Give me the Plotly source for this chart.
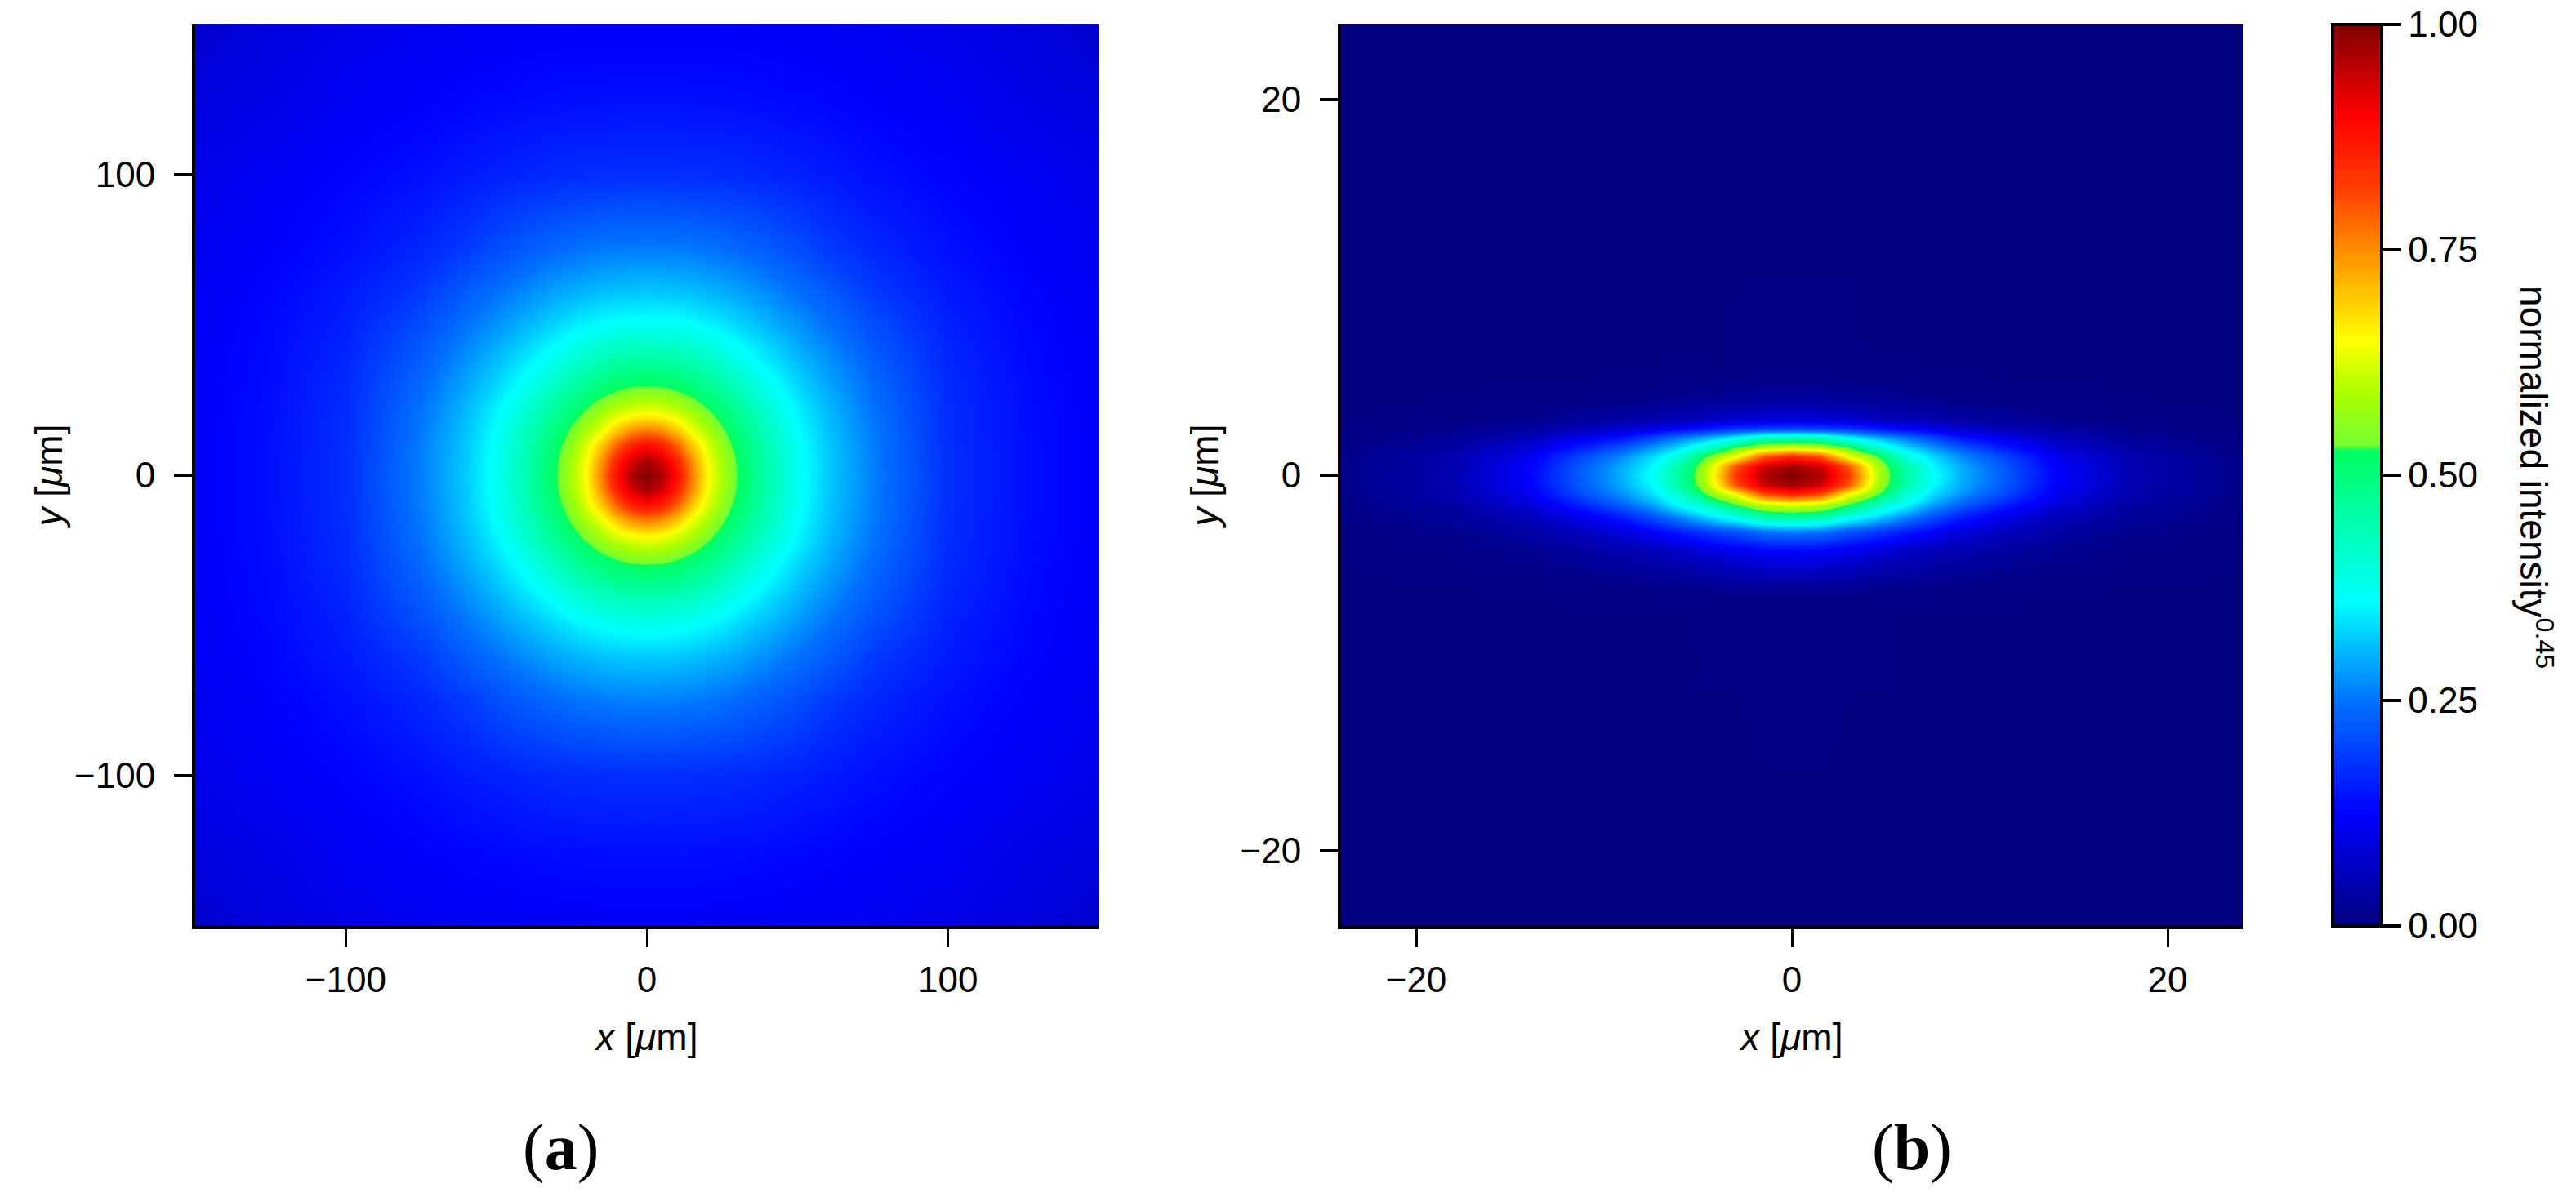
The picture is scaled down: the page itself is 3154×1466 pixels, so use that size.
import numpy as np
import plotly.graph_objects as go

W, H = 3154, 1466

# colour map (note the step just above 0.52)
cmap_pos = [0.0, 0.125, 0.25, 0.36, 0.43, 0.527, 0.533, 0.59, 0.65, 0.75, 0.82, 0.90, 1.0]
cmap_col = ["rgb(0,0,128)", "rgb(0,0,255)", "rgb(0,115,255)", "rgb(0,255,255)", "rgb(0,255,190)",
            "rgb(0,255,95)", "rgb(115,255,50)", "rgb(170,255,0)", "rgb(255,255,0)",
            "rgb(255,140,0)", "rgb(255,60,0)", "rgb(255,0,0)", "rgb(128,0,0)"]

# panel (a): one quadrant of the round spot, distance from centre in um
a_nodes = [0, 5, 10, 15, 20, 22.5, 25, 27.5, 30, 35, 40, 50, 60, 75, 100, 125, 150]
a_quad = [
    [1.00, .970, .885, .765, .655, .623, .590, .558, .527, .489, .450, .375, .320, .260, .175, .140, .120],
    [.970, .935, .857, .747, .647, .615, .584, .553, .524, .486, .448, .374, .319, .259, .175, .140, .120],
    [.885, .857, .786, .698, .624, .595, .566, .536, .515, .478, .441, .370, .317, .258, .174, .140, .120],
    [.765, .747, .698, .639, .590, .564, .538, .517, .500, .465, .430, .363, .313, .255, .173, .139, .120],
    [.655, .647, .624, .590, .549, .526, .511, .496, .480, .448, .415, .354, .307, .251, .172, .139, .119],
    [.623, .615, .595, .564, .526, .513, .499, .484, .469, .438, .406, .349, .304, .249, .172, .138, .119],
    [.590, .584, .566, .538, .511, .499, .486, .472, .457, .427, .396, .343, .300, .246, .171, .138, .119],
    [.558, .553, .536, .517, .496, .484, .472, .459, .445, .416, .386, .336, .296, .243, .170, .138, .119],
    [.527, .524, .515, .500, .480, .469, .457, .445, .432, .404, .375, .329, .292, .240, .169, .137, .118],
    [.489, .486, .478, .465, .448, .438, .427, .416, .404, .379, .358, .316, .282, .233, .167, .136, .118],
    [.450, .448, .441, .430, .415, .406, .396, .386, .375, .358, .339, .304, .272, .226, .164, .135, .117],
    [.375, .374, .370, .363, .354, .349, .343, .336, .329, .316, .304, .277, .249, .209, .158, .132, .116],
    [.320, .319, .317, .313, .307, .304, .300, .296, .292, .282, .272, .249, .227, .188, .152, .129, .114],
    [.260, .259, .258, .255, .251, .249, .246, .243, .240, .233, .226, .209, .188, .166, .140, .123, .111],
    [.175, .175, .174, .173, .172, .172, .171, .170, .169, .167, .164, .158, .152, .140, .127, .115, .103],
    [.140, .140, .140, .139, .139, .138, .138, .138, .137, .136, .135, .132, .129, .123, .115, .100, .093],
    [.120, .120, .120, .120, .119, .119, .119, .119, .118, .118, .117, .116, .114, .111, .103, .093, .075],
]

# panel (b): right half of the flat spot, rows run from top to bottom
b_x_nodes = [0, 1.5, 3, 4, 5, 6, 7.5, 9, 11, 14, 18, 24]
b_y_nodes = [24, 6, 5, 4, 3, 2.5, 2, 1.5, 1, .5, 0, -.5, -1, -1.5, -2, -2.5, -3, -4, -5, -6, -7, -24]
b_half = [
    [0, 0, 0, 0, 0, 0, 0, 0, 0, 0, 0, 0],
    [.002, .002, .002, .001, .001, .001, .001, .001, 0, 0, 0, 0],
    [.012, .012, .010, .008, .007, .006, .004, .003, .002, .001, .001, 0],
    [.030, .029, .025, .022, .019, .017, .013, .010, .007, .004, .002, 0],
    [.090, .088, .080, .070, .060, .055, .045, .035, .028, .015, .006, .001],
    [.200, .195, .180, .165, .140, .125, .100, .080, .060, .032, .012, .002],
    [.440, .430, .358, .320, .285, .255, .200, .145, .110, .060, .024, .004],
    [.620, .600, .535, .450, .390, .335, .275, .220, .160, .085, .035, .006],
    [.850, .800, .640, .585, .490, .400, .330, .270, .210, .110, .045, .009],
    [.975, .940, .800, .660, .540, .455, .355, .295, .230, .122, .049, .010],
    [1.00, .965, .830, .680, .550, .465, .370, .300, .235, .125, .050, .010],
    [.975, .940, .800, .660, .540, .455, .355, .295, .230, .122, .049, .010],
    [.860, .810, .650, .590, .495, .410, .335, .275, .215, .110, .045, .009],
    [.640, .620, .540, .470, .400, .370, .290, .235, .170, .088, .035, .007],
    [.525, .505, .430, .385, .345, .300, .235, .180, .125, .066, .026, .005],
    [.390, .375, .320, .295, .260, .225, .175, .130, .090, .048, .020, .004],
    [.260, .250, .215, .200, .175, .155, .120, .090, .065, .034, .013, .003],
    [.130, .125, .110, .095, .085, .070, .055, .045, .033, .016, .007, .001],
    [.070, .068, .060, .050, .045, .038, .030, .024, .017, .009, .004, .001],
    [.020, .020, .017, .015, .012, .011, .008, .006, .005, .003, .001, 0],
    [.003, .003, .002, .002, .002, .001, .001, .001, .001, 0, 0, 0],
    [0, 0, 0, 0, 0, 0, 0, 0, 0, 0, 0, 0],
]

a_ticks = [-100, 0, 100]
b_ticks = [-20, 0, 20]
cbar_ticks = [0, 0.25, 0.5, 0.75, 1]


def mirror_axis(nodes):
    n = np.array(nodes, dtype=float)
    return np.concatenate([-n[:0:-1], n])


# the spot in (a) is symmetric, so the quadrant is flipped out to the full plane
q = np.array(a_quad)
top = np.hstack([q[:, :0:-1], q])
z_a = np.vstack([top[:0:-1], top])
x_a = mirror_axis(a_nodes)

h = np.array(b_half)[::-1]
z_b = np.hstack([h[:, :0:-1], h])
x_b = mirror_axis(b_x_nodes)
y_b = np.array(b_y_nodes)[::-1]

fig = go.Figure()
fig.add_trace(go.Heatmap(x=x_a, y=x_a, z=z_a, zsmooth="best", coloraxis="coloraxis", xaxis="x", yaxis="y"))
fig.add_trace(go.Heatmap(x=x_b, y=y_b, z=z_b, zsmooth="best", coloraxis="coloraxis", xaxis="x2", yaxis="y2"))

FONT = "Liberation Sans"
tick_font = dict(family=FONT, size=44, color="black")
title_font = dict(family=FONT, size=46, color="black")
y0, y1 = 1 - 1134 / H, 1 - 30 / H


def axis(domain, rng, ticks, title, standoff, tick_w, label_gap=0):
    return dict(domain=domain, range=rng, tickmode="array", tickvals=ticks, ticks="outside",
                ticklen=22, tickwidth=tick_w, tickcolor="black", showline=True, linecolor="black",
                linewidth=4, mirror=False, showgrid=False, zeroline=False, tickfont=tick_font,
                ticklabelstandoff=label_gap,
                title=dict(text=title, font=title_font, standoff=standoff))


def panel_label(text, x):
    return dict(text=text, x=x / W, y=1 - 1405 / H, xref="paper", yref="paper", showarrow=False,
                xanchor="center", yanchor="middle",
                font=dict(family="Liberation Serif", size=80, color="black"))


x_title = "<i>x</i> [<i>μ</i>m]"
y_title = "<i>y</i> [<i>μ</i>m]"
fig.update_layout(
    width=W, height=H, autosize=False,
    margin=dict(l=0, r=0, t=0, b=0, autoexpand=False),
    paper_bgcolor="white", plot_bgcolor="white", showlegend=False,
    xaxis=dict(axis([239 / W, 1345 / W], [-150, 150], a_ticks, x_title, 32, 3, 2), anchor="y"),
    yaxis=dict(axis([y0, y1], [-150, 150], a_ticks, y_title, 1, 4, 14), anchor="x"),
    xaxis2=dict(axis([1642 / W, 2746 / W], [-24, 24], b_ticks, x_title, 32, 3, 2), anchor="y2"),
    yaxis2=dict(axis([y0, y1], [-24, 24], b_ticks, y_title, 13, 4, 14), anchor="x2"),
    coloraxis=dict(
        cmin=0, cmax=1,
        colorscale=[[p, c] for p, c in zip(cmap_pos, cmap_col)],
        colorbar=dict(
            x=2856 / W, xanchor="left", xpad=0, ypad=0,
            y=y0, yanchor="bottom", len=y1 - y0, lenmode="fraction",
            thickness=60, thicknessmode="pixels",
            outlinecolor="black", outlinewidth=4,
            tickmode="array", tickvals=cbar_ticks, tickformat=".2f", tickprefix="\u00a0\u00a0",
            ticks="outside", ticklen=22, tickwidth=4, tickcolor="black", tickfont=tick_font,
        ),
    ),
    annotations=[
        panel_label("(<b>a</b>)", 686),
        panel_label("(<b>b</b>)", 2341),
        # matplotlib-style colour bar title, reads top to bottom
        dict(text="normalized intensity<sup>0.45</sup>", x=3105 / W, y=1 - 584 / H, xref="paper", yref="paper",
             showarrow=False, textangle=90, xanchor="center", yanchor="middle", font=title_font),
    ],
)

fig.write_html("out.html", config=dict(displayModeBar=False), post_script="document.body.style.margin='0';")
